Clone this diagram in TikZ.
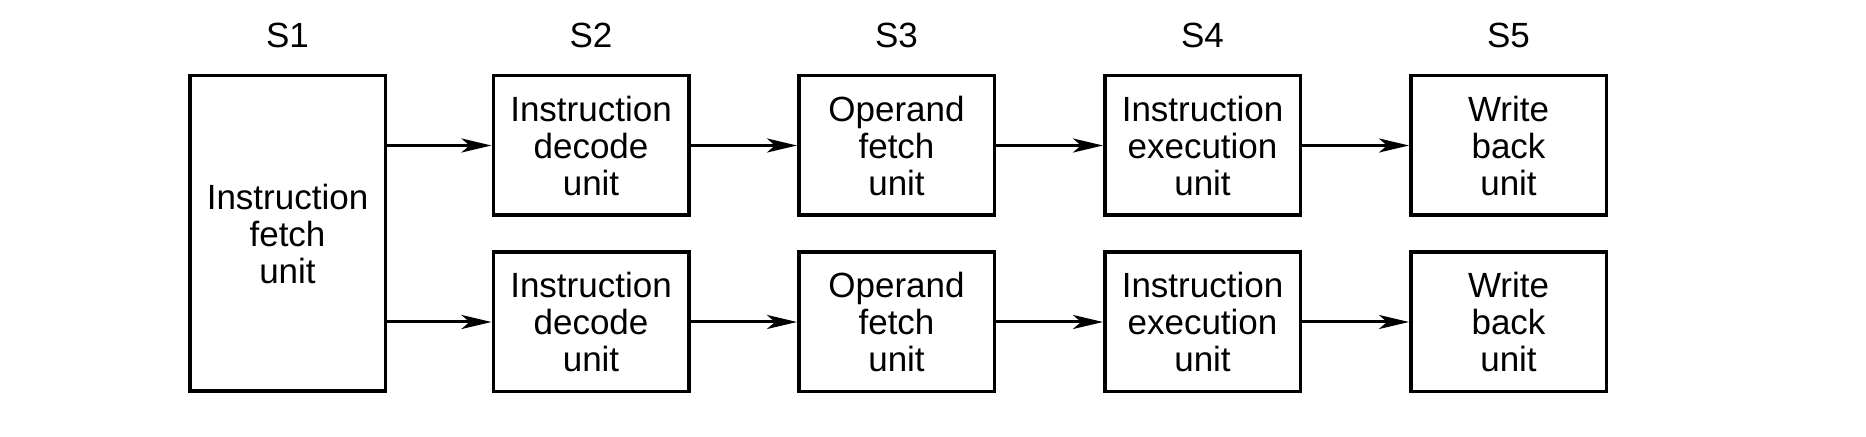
\documentclass[tikz,border=0pt]{standalone}
\usepackage{fontspec}
\setmainfont{Liberation Sans}
\usetikzlibrary{arrows.meta}
\begin{document}
\begin{tikzpicture}[x=0.5pt,y=-0.5pt,
  unitbox/.style={draw, line width=1.75pt, minimum width=97.75pt, minimum height=69.75pt,
    inner sep=0pt, align=center, font=\fontsize{17.5}{18.5}\selectfont},
  bigbox/.style={unitbox, minimum height=157.75pt},
  stagelbl/.style={anchor=base, font=\fontsize{17.5}{18.5}\selectfont},
  flow/.style={line width=1.5pt, -{Stealth[length=15pt,width=7pt,inset=4pt]}}]
\useasboundingbox (0,0) rectangle (1866,437);
\node[bigbox] (f) at (287.5,233.5) {Instruction\\fetch\\unit};
\node[unitbox] (d1) at (591,145.5) {Instruction\\decode\\unit};
\node[unitbox] (d2) at (591,322) {Instruction\\decode\\unit};
\node[unitbox] (o1) at (896.5,145.5) {Operand\\fetch\\unit};
\node[unitbox] (o2) at (896.5,322) {Operand\\fetch\\unit};
\node[unitbox] (e1) at (1202.5,145.5) {Instruction\\execution\\unit};
\node[unitbox] (e2) at (1202.5,322) {Instruction\\execution\\unit};
\node[unitbox] (w1) at (1508.5,145.5) {Write\\back\\unit};
\node[unitbox] (w2) at (1508.5,322) {Write\\back\\unit};
\node[stagelbl] (s1) at (287.5,48) {S1};
\node[stagelbl] (s2) at (591,48) {S2};
\node[stagelbl] (s3) at (896.5,48) {S3};
\node[stagelbl] (s4) at (1202.5,48) {S4};
\node[stagelbl] (s5) at (1508.5,48) {S5};
\draw[flow] (f.east |- d1.west) -- (d1.west);
\draw[flow] (f.east |- d2.west) -- (d2.west);
\draw[flow] (d1) -- (o1);
\draw[flow] (d2) -- (o2);
\draw[flow] (o1) -- (e1);
\draw[flow] (o2) -- (e2);
\draw[flow] (e1) -- (w1);
\draw[flow] (e2) -- (w2);
\end{tikzpicture}
\end{document}
